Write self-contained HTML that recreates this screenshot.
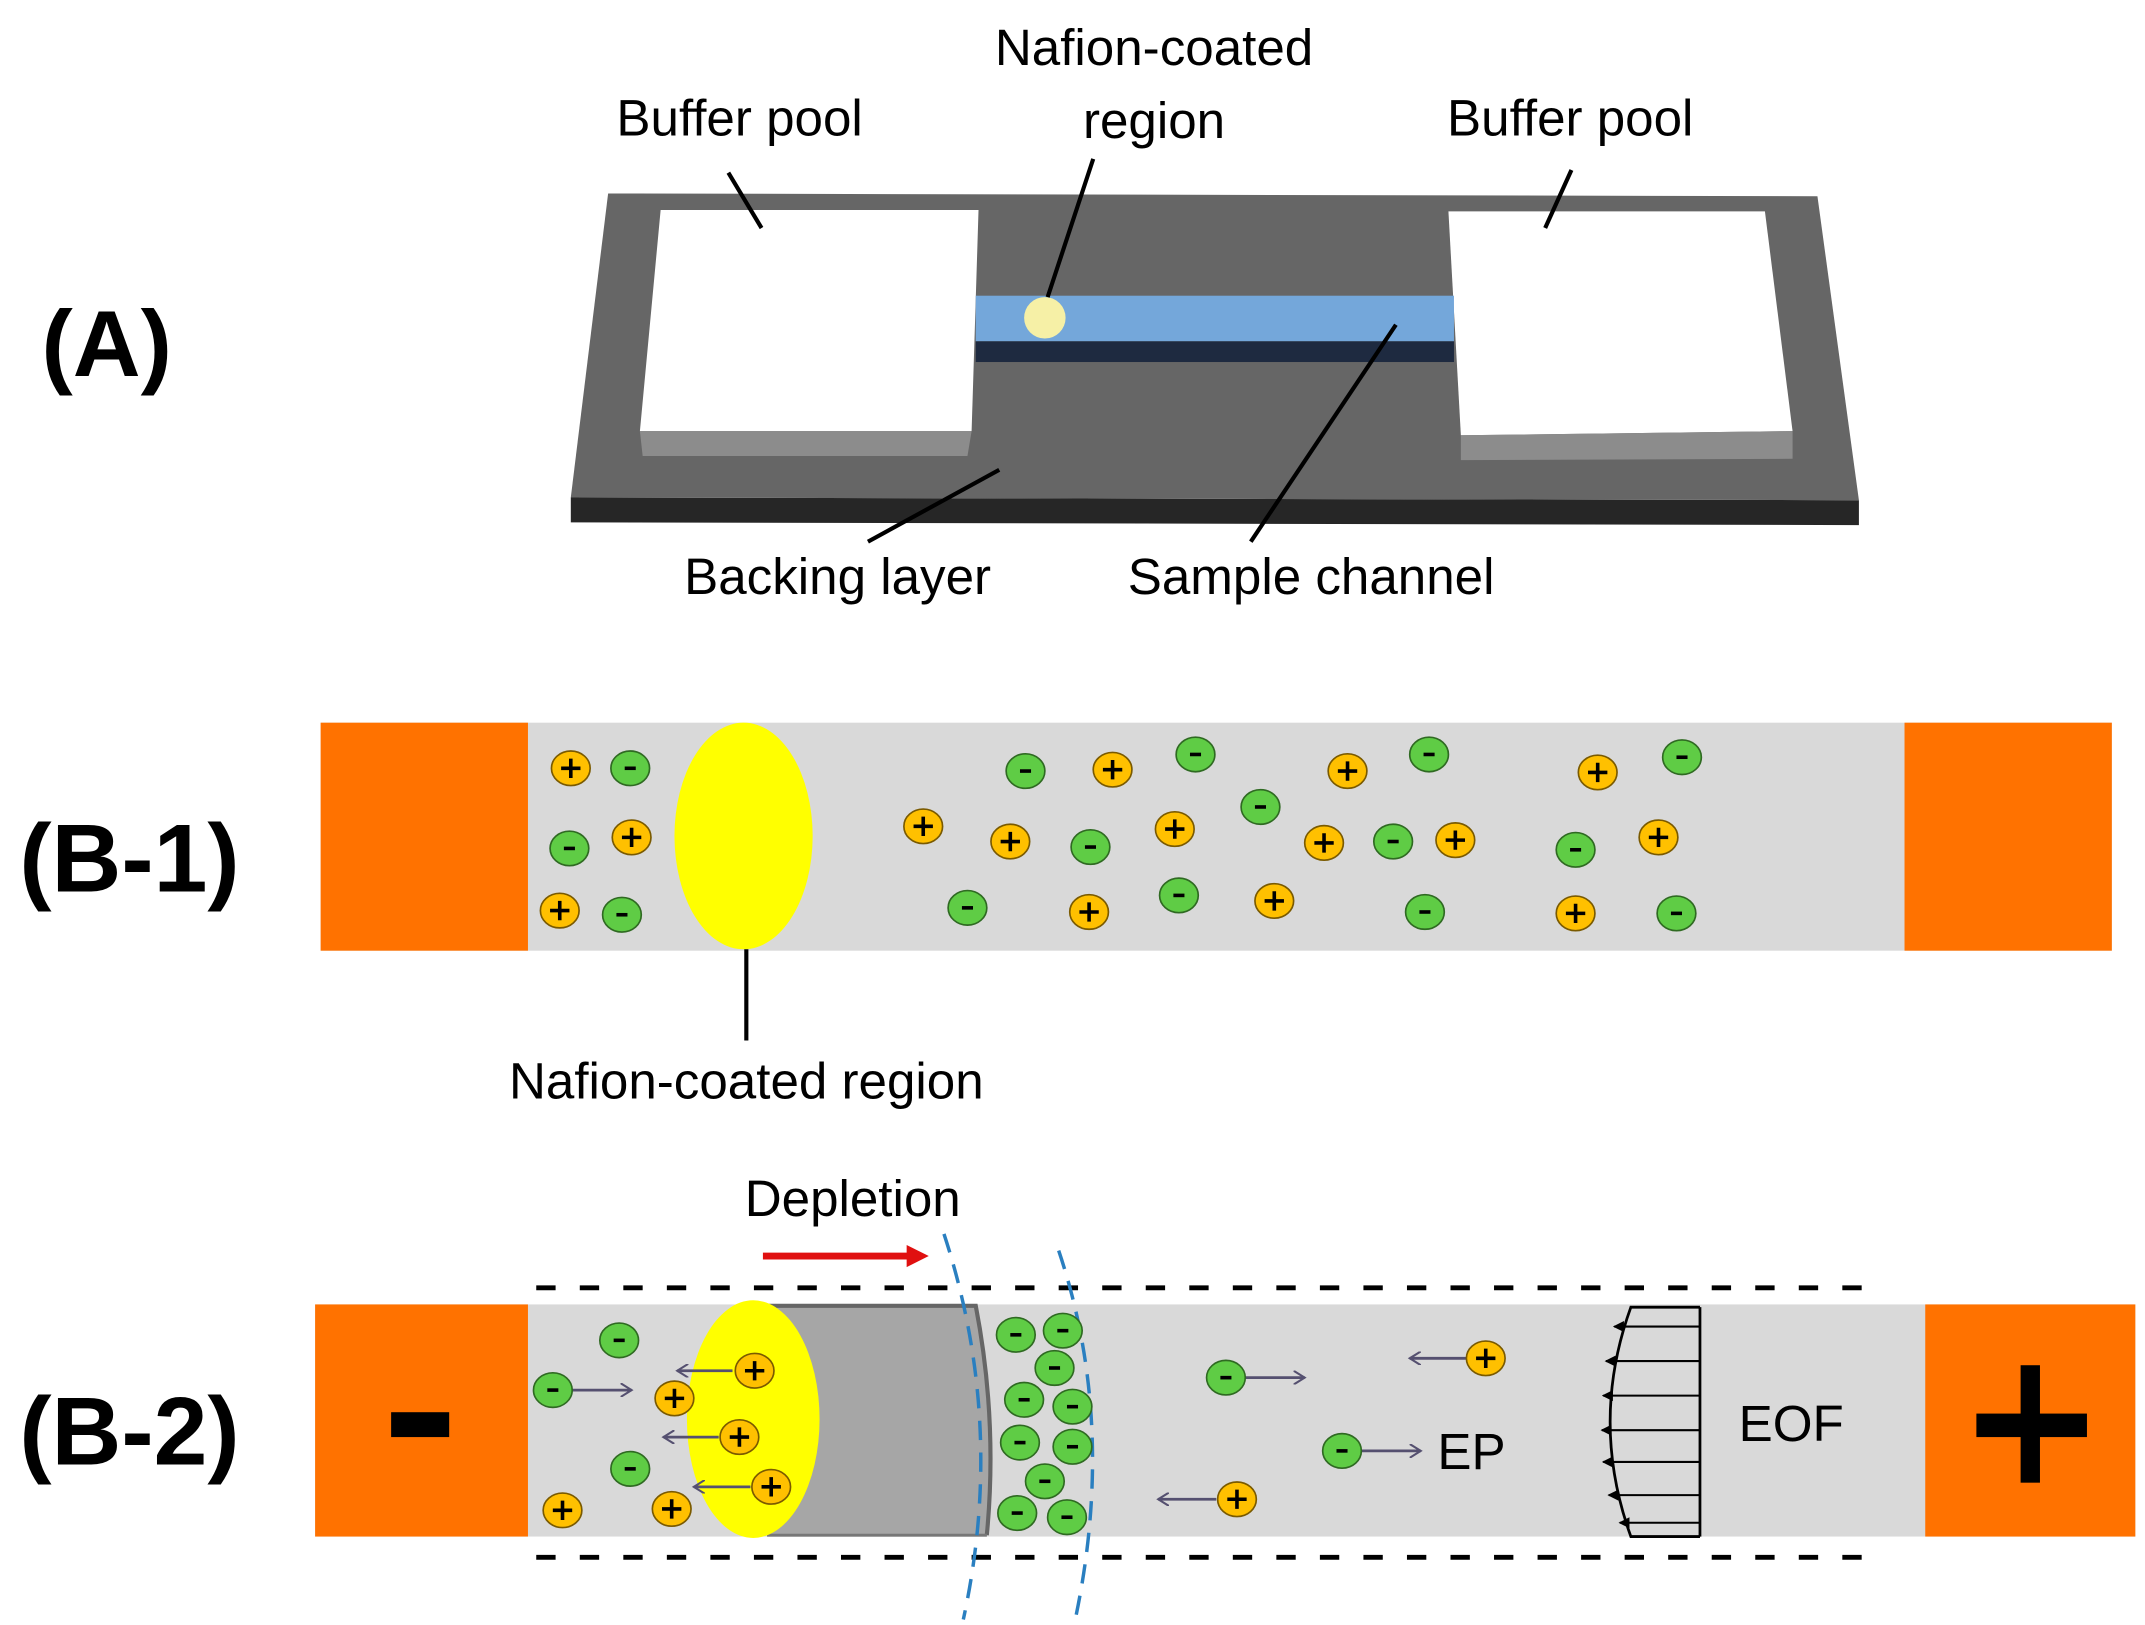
<!DOCTYPE html>
<html><head><meta charset="utf-8"><style>
html,body{margin:0;padding:0;background:#fff;}
svg{display:block;}
text{font-family:"Liberation Sans",sans-serif;}
</style></head><body>
<svg width="2145" height="1625" viewBox="0 0 1552 1176" preserveAspectRatio="none" xmlns="http://www.w3.org/2000/svg">
<defs>
<g id="p"><ellipse cx="0" cy="0" rx="14" ry="12.5" fill="#ffc000" stroke="#7a5a00" stroke-width="1.2"/><path d="M-7 0H7M0-7V7" stroke="#000" stroke-width="2.6"/></g>
<g id="m"><ellipse cx="0" cy="0" rx="14" ry="12.5" fill="#5fcc45" stroke="#2f6a22" stroke-width="1.2"/><path d="M-4 0H4" stroke="#000" stroke-width="2.6"/></g>
<marker id="ah" markerWidth="10" markerHeight="10" refX="8" refY="5" orient="auto" markerUnits="userSpaceOnUse"><path d="M0 0L8 5L0 10" fill="none" stroke="#555070" stroke-width="1.5"/></marker>
<marker id="ek" markerWidth="8" markerHeight="8" refX="7" refY="4" orient="auto" markerUnits="userSpaceOnUse"><path d="M0 0L8 4L0 8Z" fill="#000"/></marker>
</defs>

<!-- (A) -->
<text x="30" y="272" font-size="68" font-weight="bold">(A)</text>
<polygon points="413,360 1345,362 1345,380 413,378" fill="#262626"/>
<polygon points="440,140 1315,142 1345,362 413,360" fill="#666666"/>
<polygon points="478,152 708,152 703,312 463,312" fill="#fff"/>
<polygon points="463,312 703,312 700,330 465,330" fill="#8c8c8c"/>
<polygon points="1048,153 1277,153 1297,312 1057,315" fill="#fff"/>
<polygon points="1057,315 1297,312 1297,332 1057,333" fill="#8c8c8c"/>
<rect x="706" y="214" width="346" height="33" fill="#74a7da"/>
<rect x="706" y="247" width="346" height="15" fill="#1e2a40"/>
<ellipse cx="756" cy="230" rx="15" ry="15" fill="#f6f0a6"/>
<g stroke="#000" stroke-width="3">
<line x1="527" y1="125" x2="551" y2="165"/>
<line x1="791" y1="115" x2="758" y2="215"/>
<line x1="1137" y1="123" x2="1118" y2="165"/>
<line x1="723" y1="340" x2="628" y2="392"/>
<line x1="1010" y1="235" x2="905" y2="392"/>
</g>
<g font-size="37" fill="#000">
<text x="835" y="47" text-anchor="middle">Nafion-coated</text>
<text x="835" y="100" text-anchor="middle">region</text>
<text x="446" y="98">Buffer pool</text>
<text x="1047" y="98">Buffer pool</text>
<text x="495" y="430">Backing layer</text>
<text x="816" y="430">Sample channel</text>
</g>

<!-- (B-1) -->
<text x="14" y="645" font-size="70" font-weight="bold">(B-1)</text>
<rect x="232" y="523" width="1296" height="165" fill="#d9d9d9"/>
<rect x="232" y="523" width="150" height="165" fill="#ff7200"/>
<rect x="1378" y="523" width="150" height="165" fill="#ff7200"/>
<ellipse cx="538" cy="605" rx="50" ry="82" fill="#ffff00"/>
<line x1="540" y1="687" x2="540" y2="753" stroke="#000" stroke-width="3"/>
<text x="540" y="795" font-size="37" text-anchor="middle">Nafion-coated region</text>
<g>
<use href="#p" x="413" y="556"/><use href="#p" x="457" y="606"/><use href="#p" x="405" y="659"/>
<use href="#p" x="805" y="557"/><use href="#p" x="668" y="598"/><use href="#p" x="731" y="609"/>
<use href="#p" x="850" y="600"/><use href="#p" x="788" y="660"/><use href="#p" x="922" y="652"/>
<use href="#p" x="975" y="558"/><use href="#p" x="958" y="610"/><use href="#p" x="1053" y="608"/>
<use href="#p" x="1156" y="559"/><use href="#p" x="1200" y="606"/><use href="#p" x="1140" y="661"/>
<use href="#m" x="456" y="556"/><use href="#m" x="412" y="614"/><use href="#m" x="450" y="662"/>
<use href="#m" x="742" y="558"/><use href="#m" x="865" y="546"/><use href="#m" x="912" y="584"/>
<use href="#m" x="789" y="613"/><use href="#m" x="700" y="657"/><use href="#m" x="853" y="648"/>
<use href="#m" x="1034" y="546"/><use href="#m" x="1008" y="609"/><use href="#m" x="1217" y="548"/>
<use href="#m" x="1140" y="615"/><use href="#m" x="1031" y="660"/><use href="#m" x="1213" y="661"/>
</g>

<!-- (B-2) -->
<text x="14" y="1060" font-size="70" font-weight="bold">(B-2)</text>
<text x="617" y="880" font-size="37" text-anchor="middle">Depletion</text>
<line x1="552" y1="909" x2="660" y2="909" stroke="#e01010" stroke-width="5"/>
<polygon points="656,901 672,909 656,917" fill="#e01010"/>
<g stroke="#000" stroke-width="3.5" stroke-dasharray="14 17.5">
<line x1="388" y1="932" x2="1352" y2="932"/>
<line x1="388" y1="1127" x2="1352" y2="1127"/>
</g>
<rect x="228" y="944" width="1317" height="168" fill="#d9d9d9"/>
<rect x="228" y="944" width="154" height="168" fill="#ff7200"/>
<rect x="1393" y="944" width="152" height="168" fill="#ff7200"/>
<rect x="283" y="1022" width="42" height="18" fill="#000"/>
<rect x="1462" y="988" width="14" height="85" fill="#000"/>
<rect x="1430" y="1023" width="80" height="17" fill="#000"/>
<path d="M555 944 L706 944 Q722 1028 714 1112 L555 1112 Z" fill="#a6a6a6"/>
<path d="M555 945 L706 945 Q722 1028 714 1111" fill="none" stroke="#666" stroke-width="3"/>
<line x1="555" y1="1111" x2="714" y2="1111" stroke="#777" stroke-width="2"/>
<ellipse cx="545" cy="1027" rx="48" ry="86" fill="#ffff00"/>
<g fill="none" stroke="#2a7fc0" stroke-width="2.5" stroke-dasharray="14 9">
<path d="M683 893 Q728 1030 697 1172"/>
<path d="M766 905 Q808 1030 778 1172"/>
</g>
<g stroke="#555070" stroke-width="2" marker-end="url(#ah)">
<line x1="414" y1="1006" x2="457" y2="1006"/>
<line x1="530" y1="992" x2="490" y2="992"/>
<line x1="520" y1="1040" x2="480" y2="1040"/>
<line x1="543" y1="1076" x2="502" y2="1076"/>
<line x1="901" y1="997" x2="944" y2="997"/>
<line x1="985" y1="1050" x2="1028" y2="1050"/>
<line x1="1061" y1="983" x2="1020" y2="983"/>
<line x1="880" y1="1085" x2="838" y2="1085"/>
</g>
<g>
<use href="#m" x="735" y="966"/><use href="#m" x="769" y="963"/><use href="#m" x="763" y="990"/>
<use href="#m" x="741" y="1013"/><use href="#m" x="776" y="1018"/><use href="#m" x="738" y="1044"/>
<use href="#m" x="776" y="1047"/><use href="#m" x="756" y="1072"/><use href="#m" x="736" y="1095"/>
<use href="#m" x="772" y="1098"/><use href="#m" x="448" y="970"/><use href="#m" x="400" y="1006"/>
<use href="#m" x="456" y="1063"/><use href="#m" x="887" y="997"/><use href="#m" x="971" y="1050"/>
<use href="#p" x="546" y="992"/><use href="#p" x="488" y="1012"/><use href="#p" x="535" y="1040"/>
<use href="#p" x="558" y="1076"/><use href="#p" x="407" y="1093"/><use href="#p" x="486" y="1092"/>
<use href="#p" x="1075" y="983"/><use href="#p" x="895" y="1085"/>
</g>
<text x="1040" y="1063" font-size="37">EP</text>
<text x="1258" y="1043" font-size="37">EOF</text>
<line x1="1230" y1="946" x2="1230" y2="1112" stroke="#000" stroke-width="2"/>
<path d="M1230 946 L1180 946 Q1150 1029 1180 1112 L1230 1112" fill="none" stroke="#000" stroke-width="2"/>
<g stroke="#000" stroke-width="1.5" marker-end="url(#ek)">
<line x1="1230" y1="960" x2="1168" y2="960"/>
<line x1="1230" y1="985" x2="1162" y2="985"/>
<line x1="1230" y1="1010" x2="1160" y2="1010"/>
<line x1="1230" y1="1035" x2="1159" y2="1035"/>
<line x1="1230" y1="1058" x2="1160" y2="1058"/>
<line x1="1230" y1="1082" x2="1164" y2="1082"/>
<line x1="1230" y1="1102" x2="1172" y2="1102"/>
</g>
</svg>
</body></html>
